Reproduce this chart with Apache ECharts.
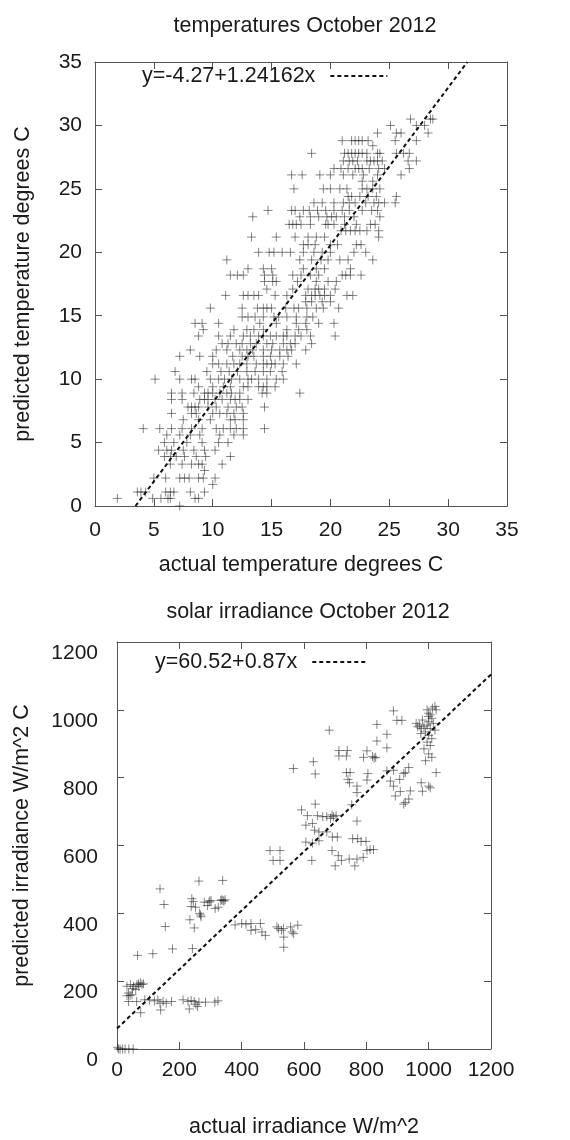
<!DOCTYPE html>
<html>
<head>
<meta charset="utf-8">
<script src="https://cdn.jsdelivr.net/npm/echarts@6/dist/echarts.min.js"></script>
<style>
  html, body { margin: 0; padding: 0; background: #fff; }
  #chart { width: 570px; height: 1140px; }
</style>
</head>
<body>
<div id="chart"></div>
<script>
// temperatures: predicted levels and the actual values seen on each level
const tempPredicted = [30.5, 30.0, 29.4, 28.8, 28.4, 27.8, 27.2, 26.6, 26.1, 25.6, 25.0, 24.4, 23.9, 23.3, 22.8, 22.2, 21.7, 21.2, 20.6, 20.0,
  19.4, 18.7, 18.2, 17.7, 17.1, 16.6, 16.1, 15.6, 14.9, 14.4, 13.9, 13.4, 12.8, 12.3, 11.8, 11.2, 10.6, 10.0, 9.4, 8.9,
  8.4, 7.8, 7.3, 6.8, 6.1, 5.6, 5.0, 4.4, 3.9, 3.3, 2.8, 2.2, 1.7, 1.1, 0.6, 0.0];
const tempActual = [
  [26.8, 28.5, 28.7],
  [25.1, 27.3, 28.0],
  [24.0, 25.6, 26.0, 28.3],
  [21.0, 21.8, 22.1, 22.4, 22.7, 23.2, 25.5, 27.3],
  [23.6],
  [18.4, 21.2, 21.5, 21.8, 22.1, 22.4, 22.7, 23.1, 24.0, 24.2, 25.6, 26.2, 26.7],
  [21.1, 21.6, 21.9, 22.3, 23.1, 23.4, 23.7, 24.0, 24.4, 26.6, 27.3],
  [20.3, 20.9, 21.5, 22.1, 22.4, 22.7, 23.3, 24.1, 24.6, 26.7],
  [16.7, 17.6, 19.1, 20.0, 21.1, 21.9, 22.8, 24.0, 26.0],
  [22.7, 23.6],
  [16.9, 19.4, 20.0, 20.8, 21.4, 22.7, 23.1, 23.6, 24.2],
  [21.5, 21.8, 22.5, 23.2, 23.9, 25.6],
  [18.6, 19.3, 20.3, 21.1, 21.6, 22.1, 23.0, 23.7, 24.1, 24.6, 25.5],
  [14.7, 16.7, 17.0, 17.7, 18.2, 18.9, 19.6, 20.3, 21.0, 21.6, 22.7, 23.5, 24.0],
  [13.4, 17.4, 18.3, 19.0, 19.7, 20.1, 20.5, 21.2, 22.0, 24.2],
  [16.5, 16.8, 17.1, 17.5, 18.3, 19.6, 19.8, 20.3, 21.2, 22.2, 23.4, 23.8],
  [20.9, 21.3, 21.7, 22.1, 22.5, 23.1, 24.1],
  [13.3, 15.4, 17.0, 18.1, 18.8, 19.5, 24.1],
  [17.7, 18.1, 18.7, 20.0, 20.6, 22.2, 22.6],
  [13.9, 14.8, 15.2, 15.9, 16.6, 17.7, 18.6, 19.3, 20.0, 22.0, 23.0],
  [11.2, 17.4, 18.4, 19.2, 19.8, 20.8, 21.5, 23.6],
  [13.0, 14.3, 15.0, 17.7, 18.8, 19.5, 21.7],
  [11.5, 12.1, 12.6, 14.4, 15.1, 16.8, 17.5, 18.3, 19.0, 21.0, 21.3, 21.7, 22.6],
  [14.4, 15.1, 15.4, 17.2, 18.8, 19.8, 20.5],
  [14.6, 16.8, 18.1, 18.7, 19.0, 19.5, 20.4],
  [11.1, 12.6, 13.0, 13.5, 13.9, 15.3, 16.3, 17.9, 18.4, 18.7, 19.1, 19.5, 20.0, 21.4, 21.9],
  [17.9, 18.4, 19.3, 20.0],
  [9.8, 12.5, 13.8, 14.3, 14.6, 15.0, 16.2, 16.9, 17.3, 18.0, 18.8, 19.4, 20.7],
  [12.5, 13.0, 13.6, 14.3, 15.2, 15.6, 16.3, 17.1, 18.0, 18.5],
  [8.5, 9.1, 10.5, 14.0, 15.4, 17.1, 17.9, 19.0, 20.3],
  [9.2, 11.8, 12.9, 13.5, 14.3, 16.3, 17.3, 18.0],
  [8.8, 10.5, 11.5, 12.6, 13.2, 13.9, 14.3, 14.9, 15.4, 16.0, 16.3, 17.0, 17.5, 18.3, 20.4],
  [10.8, 11.3, 12.0, 12.5, 13.2, 13.7, 14.6, 15.1, 16.0, 16.6, 17.0, 18.4],
  [8.1, 10.3, 11.2, 12.3, 12.9, 13.4, 14.3, 15.0, 15.7, 16.3, 16.7, 17.9],
  [7.2, 8.9, 10.0, 11.7, 12.5, 13.0, 13.5, 14.3, 14.9, 15.7, 16.4],
  [10.0, 10.5, 11.2, 11.8, 12.3, 12.9, 13.7, 14.3, 14.6, 15.0, 15.3, 16.0, 17.1],
  [6.8, 9.5, 10.7, 11.4, 12.1, 12.9, 13.6, 14.3, 14.9, 15.9],
  [5.1, 7.2, 8.2, 8.5, 9.8, 10.5, 11.0, 11.6, 12.3, 13.0, 13.3, 13.9, 14.6, 15.4, 16.0],
  [8.8, 10.0, 10.9, 11.5, 12.6, 13.0, 13.9, 14.3, 14.6, 15.3],
  [6.5, 7.4, 8.4, 9.3, 9.6, 10.0, 10.6, 11.2, 11.6, 12.3, 14.2, 14.6, 17.4],
  [6.5, 7.4, 8.9, 9.3, 9.6, 10.2, 10.8, 11.5, 11.9, 12.3, 13.0],
  [7.9, 8.2, 8.5, 8.8, 9.6, 10.3, 11.3, 12.0, 12.5, 14.4],
  [6.5, 8.2, 8.6, 10.0, 10.6, 11.2, 11.8, 12.6],
  [7.5, 8.8, 9.8, 11.5, 11.9, 12.6],
  [4.1, 5.5, 6.5, 7.4, 8.2, 9.1, 10.3, 10.9, 11.5, 12.0, 12.6, 14.4],
  [6.1, 7.2, 8.1, 8.9, 10.6, 11.8, 12.6],
  [5.9, 6.7, 7.8, 9.1, 10.5, 11.3],
  [5.4, 6.1, 6.5, 7.5, 8.4, 9.3, 10.2],
  [5.9, 6.4, 6.9, 7.6, 8.6, 9.4, 11.5],
  [6.4, 7.4, 8.2, 8.8, 9.1, 10.8],
  [9.3],
  [5.0, 6.0, 7.2, 7.6, 8.0, 8.8, 9.2, 10.2],
  [10.0],
  [3.6, 3.9, 4.3, 6.0, 6.4, 6.7, 8.1, 9.3],
  [1.9, 4.9, 5.6, 6.2, 6.4, 8.5, 8.8],
  [7.2]
];
// fitted line y=-4.27+1.24162x, end points read on the plot
const tempFitX = [3.44, 31.63];
const tempFitY = [0, 35];

// solar irradiance: [actual, predicted]
const solarPoints = [
  [681, 940], [566, 827], [630, 847], [636, 811], [887, 997], [834, 957], [898, 969], [914, 969],
  [960, 960], [965, 950], [970, 955], [976, 945],
  [995, 1000], [1000, 990], [1005, 985], [1010, 975], [1000, 965], [1015, 960], [995, 955], [1005, 945],
  [1020, 940], [990, 935], [1000, 925], [1010, 915], [995, 905], [1005, 895], [985, 885], [1000, 870],
  [1010, 860], [990, 850], [1020, 1010], [1024, 1000], [1000, 980], [980, 970], [985, 950], [975, 930], [1012, 1005],
  [866, 928], [834, 908], [866, 888], [802, 879], [712, 880], [739, 880], [736, 864], [712, 864],
  [791, 860], [820, 862], [825, 858], [830, 860], [866, 820], [887, 822], [925, 815], [936, 830],
  [920, 812], [736, 815], [748, 815], [805, 812], [907, 795], [741, 795], [746, 785], [802, 793],
  [770, 775], [770, 756], [887, 775], [909, 759], [893, 746], [941, 761], [936, 737], [925, 727],
  [920, 722], [976, 785], [1000, 775], [1005, 770], [1024, 815], [980, 760], [877, 790],
  [636, 722], [753, 720], [770, 672], [592, 705], [611, 688], [606, 660], [627, 665], [643, 688],
  [660, 685], [673, 685], [690, 690], [695, 685], [703, 688], [685, 680], [634, 645], [648, 640],
  [673, 640], [606, 610], [627, 607], [648, 614], [691, 625], [707, 625], [756, 620], [772, 620],
  [783, 612], [799, 612], [812, 588], [823, 588],
  [501, 556], [523, 556], [491, 585], [523, 585], [625, 556], [690, 585], [710, 570], [720, 556],
  [700, 540], [763, 540], [745, 560], [770, 560], [790, 565], [802, 585],
  [138, 472], [151, 426], [263, 495], [339, 497], [155, 361], [178, 295], [66, 276], [115, 281],
  [242, 296], [234, 381], [248, 357], [240, 443], [245, 435], [238, 420], [252, 418], [265, 400],
  [268, 395], [270, 390], [280, 433], [295, 433], [302, 437], [290, 423], [298, 437], [333, 438],
  [336, 440], [340, 438], [343, 436], [347, 440], [315, 414], [325, 418],
  [379, 366], [400, 370], [414, 368], [430, 370], [430, 350], [445, 352], [460, 370], [465, 345],
  [476, 335], [513, 360], [518, 355], [534, 355], [528, 350], [535, 330], [535, 300], [557, 360],
  [562, 345], [567, 340], [580, 365],
  [32, 185], [37, 165], [42, 158], [48, 160], [43, 190], [53, 185], [64, 190], [69, 192], [75, 195],
  [80, 190], [85, 192], [50, 178], [60, 175], [70, 185], [32, 157],
  [37, 140], [63, 140], [89, 145], [104, 145], [120, 142], [131, 145], [138, 135], [148, 140],
  [158, 135], [175, 140], [140, 115], [76, 107], [212, 145], [228, 140], [238, 143], [248, 140],
  [253, 132], [263, 138], [258, 125], [232, 118], [284, 138], [314, 138], [324, 142],
  [5, 0], [10, 0], [18, 0], [26, 0], [38, 0], [52, 0], [2, 5]
];
// fitted line y=60.52+0.87x
const solarFitX = [0, 1200];
const solarFitY = [60.52, 1104.5];

const tempFitName = "y=-4.27+1.24162x";
const solarFitName = "y=60.52+0.87x";

const FONT = "Liberation Sans, Arial, Helvetica, sans-serif";
const INK = "#1a1a1a";
const BOX = "#555";
const CROSS = "path://M0,5 L10,5 M5,0 L5,10";
const TEXT = { color: INK, fontSize: 21.5, fontFamily: FONT };

let tempPoints = [];
tempPredicted.forEach((y, i) => {
  tempActual[i].forEach((x) => tempPoints.push([x, y]));
});

function pairs(xs, ys) {
  return xs.map((x, i) => [x, ys[i]]);
}

// one side of the box; mirror sides only carry inside ticks
function makeAxis(pos, grid, min, max, interval, label, extra) {
  let axis = {
    type: "value",
    gridIndex: grid,
    position: pos,
    min: min,
    max: max,
    interval: interval,
    splitLine: { show: false },
    axisLine: { show: true, onZero: false, lineStyle: { color: BOX, width: 1 } },
    axisTick: { show: true, inside: true, length: 7, lineStyle: { color: BOX } },
    axisLabel: label
      ? Object.assign({ color: INK, fontSize: 21, fontFamily: FONT, formatter: (v) => String(v) }, label)
      : { show: false },
  };
  return Object.assign(axis, extra || {});
}

let myChart = echarts.init(document.getElementById("chart"), null, { renderer: "canvas" });

let option = {
  backgroundColor: "#fff",
  animation: false,
  title: [
    {
      text: "temperatures October 2012",
      left: 300, top: 10, textAlign: "center",
      textStyle: Object.assign({ fontWeight: "normal" }, TEXT),
    },
    {
      text: "solar irradiance October 2012",
      left: 303, top: 596, textAlign: "center",
      textStyle: Object.assign({ fontWeight: "normal" }, TEXT),
    },
  ],
  legend: [
    {
      data: [tempFitName],
      left: 142, top: 65, align: "right", padding: 0,
      itemWidth: 57, itemHeight: 14,
      itemStyle: { color: "transparent", borderWidth: 0 },
      textStyle: Object.assign({ padding: [0, 10, 0, 0] }, TEXT),
    },
    {
      data: [solarFitName],
      left: 155, top: 651, align: "right", padding: 0,
      itemWidth: 55, itemHeight: 14,
      itemStyle: { color: "transparent", borderWidth: 0 },
      textStyle: Object.assign({ padding: [0, 10, 0, 0] }, TEXT),
    },
  ],
  grid: [
    { left: 95, top: 62, width: 412, height: 444 },
    { left: 117, top: 642, width: 374, height: 407 },
  ],
  xAxis: [
    makeAxis("bottom", 0, 0, 35, 5, { margin: 14 }, {
      name: "actual temperature degrees C",
      nameLocation: "middle", nameGap: 48,
      nameTextStyle: TEXT,
    }),
    makeAxis("top", 0, 0, 35, 5, null),
    makeAxis("bottom", 1, 0, 1200, 200, { margin: 11 }, {
      name: "actual irradiance W/m^2",
      nameLocation: "middle", nameGap: 67,
      nameTextStyle: TEXT,
    }),
    makeAxis("top", 1, 0, 1200, 200, null),
  ],
  yAxis: [
    makeAxis("left", 0, 0, 35, 5, { margin: 13 }, {
      name: "predicted temperature degrees C",
      nameLocation: "middle", nameGap: 61,
      nameTextStyle: TEXT,
    }),
    makeAxis("right", 0, 0, 35, 5, null),
    makeAxis("left", 1, 0, 1200, 200, { margin: 19, verticalAlign: "top", padding: [1, 0, 0, 0] }, {
      name: "predicted irradiance W/m^2 C",
      nameLocation: "middle", nameGap: 84,
      nameTextStyle: TEXT,
    }),
    makeAxis("right", 1, 0, 1200, 200, null),
  ],
  series: [
    {
      name: "temperature",
      type: "scatter",
      xAxisIndex: 0, yAxisIndex: 0,
      symbol: CROSS, symbolSize: 9,
      itemStyle: { color: "transparent", borderColor: "rgba(40,40,40,0.7)", borderWidth: 1 },
      data: tempPoints,
    },
    {
      name: tempFitName,
      type: "line",
      xAxisIndex: 0, yAxisIndex: 0,
      symbol: "none",
      lineStyle: { color: "#111", width: 2, type: [4, 3] },
      itemStyle: { color: "#111" },
      data: pairs(tempFitX, tempFitY),
    },
    {
      name: "irradiance",
      type: "scatter",
      xAxisIndex: 2, yAxisIndex: 2,
      symbol: CROSS, symbolSize: 9,
      itemStyle: { color: "transparent", borderColor: "rgba(40,40,40,0.7)", borderWidth: 1 },
      data: solarPoints,
    },
    {
      name: solarFitName,
      type: "line",
      xAxisIndex: 2, yAxisIndex: 2,
      symbol: "none",
      lineStyle: { color: "#111", width: 2, type: [4, 3] },
      itemStyle: { color: "#111" },
      data: pairs(solarFitX, solarFitY),
    },
  ],
};

option && myChart.setOption(option);
</script>
</body>
</html>
